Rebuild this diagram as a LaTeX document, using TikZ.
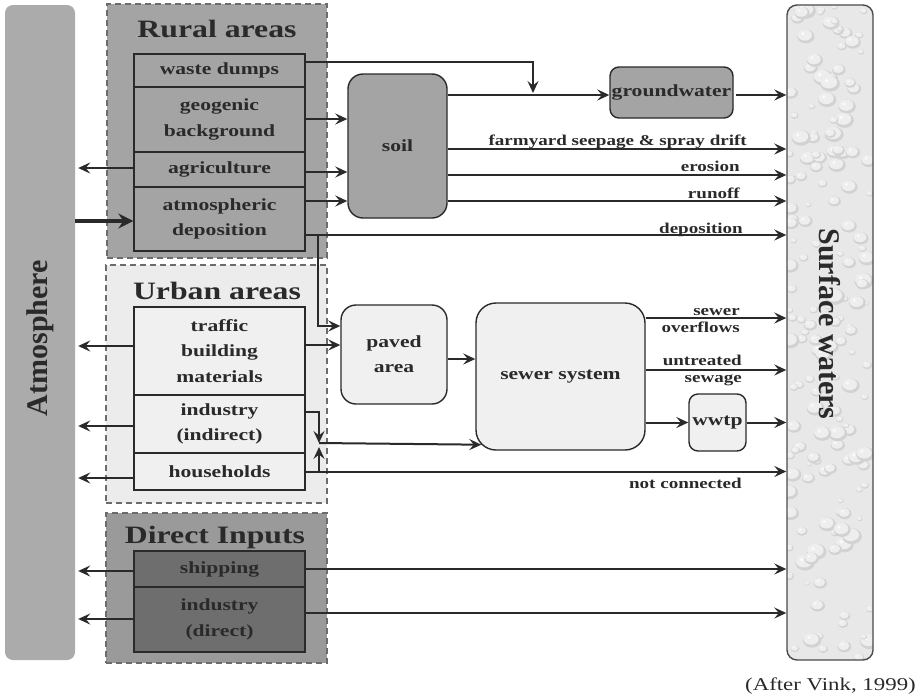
\documentclass[tikz,border=0pt]{standalone}
\usepackage{fontspec}
\setmainfont{Liberation Serif}
\newfontfamily\wide[FakeStretch=1.27]{Liberation Serif}
\usetikzlibrary{arrows.meta}

\definecolor{ink}{HTML}{2A2A2A}
\definecolor{dashc}{HTML}{6C6C6C}
\definecolor{ruralfill}{HTML}{A4A4A4}
\definecolor{urbanfill}{HTML}{ECECEC}
\definecolor{urbanbox}{HTML}{F0F0F0}
\definecolor{directfill}{HTML}{9A9A9A}
\definecolor{directbox}{HTML}{6E6E6E}
\definecolor{atmfill}{HTML}{ABABAB}
\definecolor{water}{HTML}{E8E8E8}
\definecolor{dropshadow}{HTML}{D2D2D2}
\definecolor{dropbody}{HTML}{EEEEEE}

\begin{document}
\begin{tikzpicture}[x=1pt,y=-1pt,
  grp/.style={draw=dashc, line width=1.6pt, dash pattern=on 6pt off 4pt, inner sep=0pt},
  inbox/.style={draw=ink, line width=1.3pt, inner sep=0pt, minimum width=171pt, align=center,
    text=ink, font=\wide\bfseries\fontsize{17}{25.5}\selectfont},
  rbox/.style={draw=ink, line width=1.4pt, inner sep=0pt, align=center,
    text=ink, font=\wide\bfseries\fontsize{17}{25}\selectfont},
  arr/.style={draw=ink, line width=2pt, -{Stealth[length=12pt,width=11pt,inset=4.5pt]}},
  thickarr/.style={draw=ink, line width=3.6pt, -{Stealth[length=15pt,width=15pt,inset=5pt]}},
  lbl/.style={text=ink, inner sep=0pt, align=right, font=\wide\bfseries\fontsize{15}{17}\selectfont},
  title/.style={text=ink, inner sep=0pt, font=\wide\bfseries\fontsize{25}{30}\selectfont},
  side/.style={text=ink, inner sep=0pt, font=\bfseries\fontsize{30}{36}\selectfont},
]
\useasboundingbox (0,0) rectangle (917,699);
\fill[white] (0,0) rectangle (917,699);

% ---------- atmosphere column ----------
\node[fill=atmfill, rounded corners=8pt, minimum width=70pt, minimum height=655pt, inner sep=0pt] (atm) at (40,332.5) {};
\node[side, rotate=90] (atmtext) at (40,338) {Atmosphere};

% ---------- surface waters column with droplet texture ----------
\begin{scope}
  \clip[rounded corners=10pt] (787,5) rectangle (873,660);
  \fill[water] (787,5) rectangle (873,660);
  \pgfmathsetseed{11}
  \foreach \i in {1,...,170}{
    \pgfmathsetmacro{\dx}{789+82*rnd}
    \pgfmathsetmacro{\dy}{7+651*rnd}
    \pgfmathsetmacro{\dr}{2+6*rnd}
    \pgfmathsetmacro{\ra}{1.25*\dr}
    \pgfmathsetmacro{\rb}{1.05*\dr}
    \pgfmathsetmacro{\rc}{0.8*\dr}
    \pgfmathsetmacro{\rd}{0.25*\dr}
    \fill[dropshadow] (\dx,\dy) ellipse[x radius=\ra, y radius=\dr];
    \fill[dropbody] (\dx-0.15*\dr,\dy-0.2*\dr) ellipse[x radius=\rb, y radius=\rc];
    \fill[white!70!dropbody] (\dx-0.45*\dr,\dy-0.4*\dr) circle[radius=\rd];
  }
\end{scope}
\node[draw=ink!85, line width=1.4pt, rounded corners=10pt, minimum width=86pt, minimum height=655pt, inner sep=0pt] (surf) at (830,332.5) {};
\node[side, rotate=-90] (surftext) at (830,324) {Surface waters};

% ---------- rural areas ----------
\node[grp, fill=ruralfill, minimum width=220pt, minimum height=254pt] (rural) at (217,131) {};
\node[title, anchor=base] (ruraltitle) at (217,37) {Rural areas};
\node[inbox, fill=ruralfill, minimum height=33pt] (waste) at (219.5,70.5) {waste dumps};
\node[inbox, fill=ruralfill, minimum height=65pt] (geo) at (219.5,119.5) {geogenic\\background};
\node[inbox, fill=ruralfill, minimum height=35pt] (agri) at (219.5,169.5) {agriculture};
\node[inbox, fill=ruralfill, minimum height=64pt] (atmdep) at (219.5,219) {atmospheric\\deposition};

% ---------- urban areas ----------
\node[grp, fill=urbanfill, minimum width=221pt, minimum height=238pt] (urban) at (216.5,384) {};
\node[title, anchor=base] (urbantitle) at (217,299) {Urban areas};
\node[inbox, fill=urbanbox, minimum height=88pt] (traffic) at (219.5,351) {traffic\\building\\materials};
\node[inbox, fill=urbanbox, minimum height=58pt] (indind) at (219.5,424) {industry\\(indirect)};
\node[inbox, fill=urbanbox, minimum height=37pt] (house) at (219.5,471.5) {households};

% ---------- direct inputs ----------
\node[grp, fill=directfill, minimum width=221pt, minimum height=150pt] (direct) at (216.5,588) {};
\node[title, anchor=base] (directtitle) at (215,543) {Direct Inputs};
\node[inbox, fill=directbox, minimum height=36pt] (ship) at (219.5,569) {shipping};
\node[inbox, fill=directbox, minimum height=65pt] (inddir) at (219.5,619.5) {industry\\(direct)};

% ---------- intermediate compartments ----------
\node[rbox, fill=ruralfill, rounded corners=15pt, minimum width=99pt, minimum height=144pt] (soil) at (397.5,146) {soil};
\node[rbox, fill=ruralfill, rounded corners=9pt, minimum width=123pt, minimum height=51pt] (gw) at (671.5,92.5) {groundwater};
\node[rbox, fill=urbanbox, rounded corners=15pt, minimum width=106pt, minimum height=99pt] (paved) at (394,354.5) {paved\\area};
\node[rbox, fill=urbanbox, rounded corners=20pt, minimum width=169pt, minimum height=147pt] (sewer) at (560.5,376.5) {sewer system};
\node[rbox, fill=urbanbox, rounded corners=9pt, minimum width=57pt, minimum height=57pt] (wwtp) at (717.5,422.5) {wwtp};

% ---------- junction points ----------
\coordinate (gwjoin) at (533,93);
\coordinate (depbranch) at (318,235);
\coordinate (indjoin) at (319,443);

% ---------- rural pathways ----------
\draw[arr] (waste.east |- 0,62) -| (gwjoin);
\draw[arr] (geo.east |- 0,119) -- (soil.west |- 0,119);
\draw[arr] (agri.east |- 0,172) -- (soil.west |- 0,172);
\draw[arr] (atmdep.east |- 0,201) -- (soil.west |- 0,201);
\draw[arr] (soil.east |- 0,95) -- (gw.west |- 0,95);
\draw[arr, shorten <=2pt] (gw.east |- 0,95) -- (surf.west |- 0,95);
\draw[arr] (soil.east |- 0,149) -- (surf.west |- 0,149);
\draw[arr] (soil.east |- 0,175) -- (surf.west |- 0,175);
\draw[arr] (soil.east |- 0,201) -- (surf.west |- 0,201);
\draw[arr] (atmdep.east |- 0,235) -- (surf.west |- 0,235);
\draw[arr] (depbranch) |- (paved.west |- 0,326);

\node[lbl, anchor=base east] (lfarm) at (747,145) {farmyard seepage \& spray drift};
\node[lbl, anchor=base east] (lero) at (740,171) {erosion};
\node[lbl, anchor=base east] (lrun) at (740,198) {runoff};
\node[lbl, anchor=base east] (ldep) at (743,233) {deposition};

% ---------- urban pathways ----------
\draw[arr] (traffic.east |- 0,345) -- (paved.west |- 0,345);
\draw[arr] (paved.east |- 0,359) -- (sewer.west |- 0,359);
\draw[arr] (sewer.east |- 0,318) -- (surf.west |- 0,318);
\draw[arr] (sewer.east |- 0,370) -- (surf.west |- 0,370);
\draw[arr] (sewer.east |- wwtp.west) -- (wwtp.west);
\draw[arr] (wwtp.east) -- (surf.west |- wwtp.east);
\draw[arr] (indind.east |- 0,412) -| (indjoin);
\draw[arr] (indjoin) -- ([shift={(6pt,6pt)}]sewer.south west);
\draw[arr] (house.east) -- (surf.west |- house.east);
\draw[arr] (house.east -| indjoin) -- ([yshift=-4pt]indjoin);

\node[lbl, anchor=east] (lover) at (740,320.5) {sewer\\overflows};
\node[lbl, anchor=east] (luntr) at (742,370.5) {untreated\\sewage};
\node[lbl, anchor=base east] (lnot) at (742,488) {not connected};

% ---------- direct pathways ----------
\draw[arr] (ship.east) -- (surf.west |- ship.east);
\draw[arr] (inddir.east |- 0,613) -- (surf.west |- 0,613);

% ---------- exchange with the atmosphere ----------
\draw[arr, shorten >=3pt] (agri.west |- 0,168) -- (atm.east |- 0,168);
\draw[thickarr] (atm.east |- 0,221) -- (atmdep.west |- 0,221);
\draw[arr, shorten >=3pt] (traffic.west |- 0,346) -- (atm.east |- 0,346);
\draw[arr, shorten >=3pt] (indind.west |- 0,426) -- (atm.east |- 0,426);
\draw[arr, shorten >=3pt] (house.west |- 0,478) -- (atm.east |- 0,478);
\draw[arr, shorten >=3pt] (ship.west |- 0,571) -- (atm.east |- 0,571);
\draw[arr, shorten >=3pt] (inddir.west |- 0,619) -- (atm.east |- 0,619);

% ---------- source note ----------
\node[text=ink, inner sep=0pt, anchor=base east, font=\wide\fontsize{18}{20}\selectfont] (source) at (916,690) {(After Vink, 1999)};
\end{tikzpicture}
\end{document}
